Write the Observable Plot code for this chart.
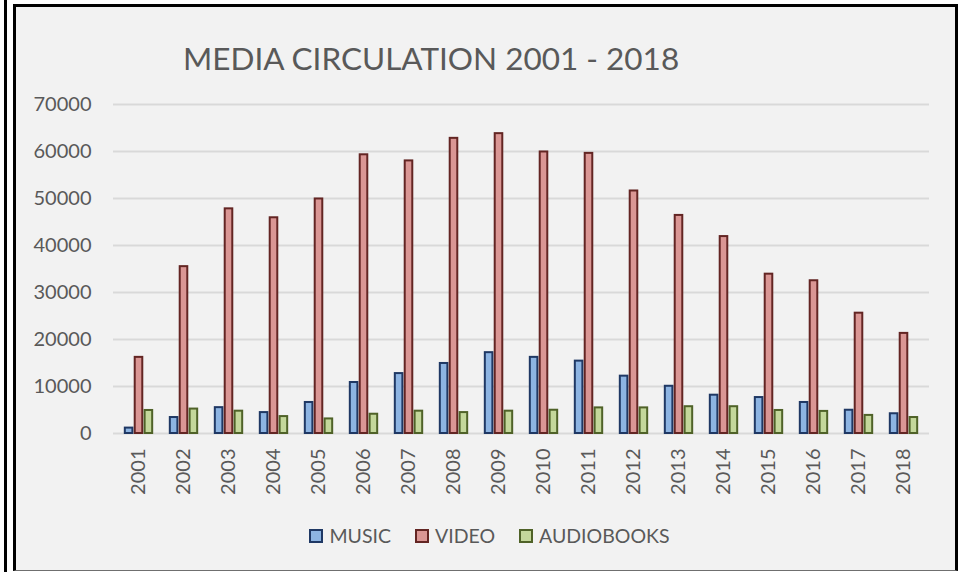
<!DOCTYPE html>
<html>
<head>
<meta charset="utf-8">
<script src="https://cdn.jsdelivr.net/npm/d3@7"></script>
<script src="https://cdn.jsdelivr.net/npm/@observablehq/plot@0.6"></script>
<style>
  html, body { margin: 0; padding: 0; background: #ffffff; width: 958px; height: 572px; overflow: hidden; }
  #leftline { position: absolute; left: 4px; top: 0; width: 3px; height: 572px; background: #000; }
  #frame { position: absolute; left: 13px; top: 4px; width: 945px; height: 567px; box-sizing: border-box;
           border-top: 3px solid #000; border-left: 3px solid #000; border-right: 3px solid #000; border-bottom: 1px solid #6f6f6f;
           background: #f2f2f2; font-family: Lato, "Open Sans", sans-serif; }
  #title { position: absolute; left: 167px; top: 36px; font-size: 31.5px; font-weight: 400; color: #595959; white-space: nowrap; line-height: 1; }
  #chart { position: absolute; left: 0; top: 78px; }
  #legend { position: absolute; left: 0; top: 506px; width: 939px; height: 45px; display: flex; align-items: center; justify-content: center;
            padding-left: 8px; box-sizing: border-box; font-size: 19.5px; color: #595959; }
  .item { display: flex; align-items: center; margin: 0 12px; }
  .sw { width: 10px; height: 10px; border: 2px solid; margin-right: 6px; }
</style>
</head>
<body>
<div id="leftline"></div>
<div id="frame">
  <div id="title"></div>
  <div id="chart"></div>
  <div id="legend"></div>
</div>
<script>
const titleText = "MEDIA CIRCULATION 2001 - 2018";
const years = ["2001","2002","2003","2004","2005","2006","2007","2008","2009","2010","2011","2012","2013","2014","2015","2016","2017","2018"];
const music = [1150, 3400, 5500, 4450, 6600, 10850, 12750, 14900, 17200, 16200, 15400, 12200, 10050, 8150, 7650, 6600, 4950, 4200];
const video = [16200, 35500, 47800, 45900, 49900, 59300, 58000, 62800, 63800, 59900, 59600, 51600, 46400, 41900, 33900, 32500, 25600, 21300];
const audiobooks = [4900, 5200, 4750, 3600, 3100, 4100, 4750, 4450, 4750, 4950, 5450, 5450, 5700, 5700, 4900, 4700, 3850, 3400];
const yTicks = [0, 10000, 20000, 30000, 40000, 50000, 60000, 70000];
const seriesNames = ["MUSIC", "VIDEO", "AUDIOBOOKS"];
const fills = ["#8db4e2", "#da9694", "#c4d79b"];
const strokes = ["#1f3864", "#632523", "#4f6228"];

document.getElementById("title").textContent = titleText;

const W = 939, H = 428;
const mL = 97, mR = 26, mT = 19, mB = 80;
const band = (W - mL - mR) / years.length;
const half = band / 2;
const barW = 7.9, pitch = 9.9;
function insets(k) {
  const c = (k - 1) * pitch;
  const left = c - barW / 2, right = c + barW / 2;
  return {insetLeft: half + left, insetRight: half - right};
}

const seriesVals = [music, video, audiobooks];
const marks = [
  Plot.ruleY(yTicks, {stroke: "#d9d9d9", strokeWidth: 2})
];
seriesVals.forEach((vals, k) => {
  marks.push(Plot.barY(vals, {x: years, y: d => d, fill: fills[k], stroke: strokes[k], strokeWidth: 2, ...insets(k)}));
});

const chart = Plot.plot({
  width: W, height: H,
  marginLeft: mL, marginRight: mR, marginTop: mT, marginBottom: mB,
  style: {background: "transparent", color: "#595959", fontSize: "20px", fontFamily: "Lato, 'Open Sans', sans-serif"},
  x: {domain: years, padding: 0, tickRotate: -90, tickSize: 0, tickPadding: 15, label: null},
  y: {domain: [0, 70000], ticks: yTicks, tickFormat: d => String(d), tickSize: 0, tickPadding: 22, label: null},
  marks
});
document.getElementById("chart").appendChild(chart);

const legend = document.getElementById("legend");
seriesNames.forEach((name, k) => {
  const it = document.createElement("div");
  it.className = "item";
  const sw = document.createElement("div");
  sw.className = "sw";
  sw.style.background = fills[k];
  sw.style.borderColor = strokes[k];
  const t = document.createElement("span");
  t.textContent = name;
  it.appendChild(sw); it.appendChild(t);
  legend.appendChild(it);
});
</script>
</body>
</html>
